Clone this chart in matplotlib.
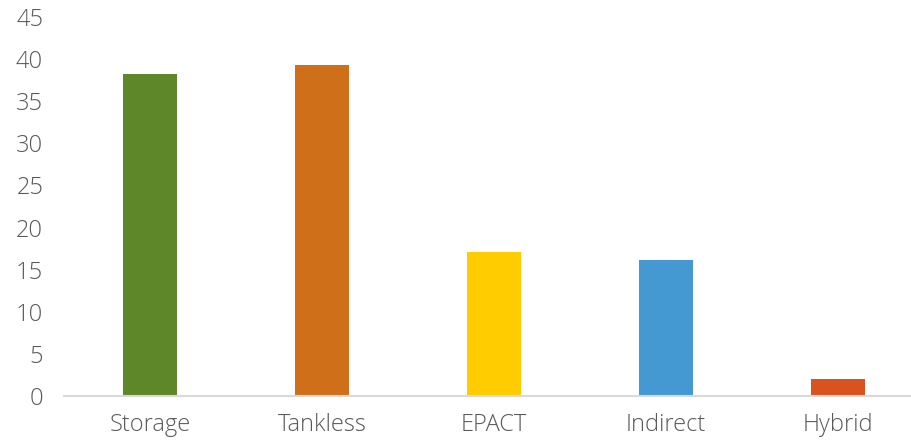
import matplotlib.pyplot as plt

categories = ["Storage", "Tankless", "EPACT", "Indirect", "Hybrid"]
values = [38.2, 39.3, 17.1, 16.15, 2.0]
colors = ["#5E8729", "#D06F1A", "#FFCC00", "#4599D3", "#D9531E"]
yticks = list(range(0, 50, 5))

plt.rcParams['font.family'] = ['Open Sans', 'DejaVu Sans']
plt.rcParams['font.weight'] = 'light'

fig = plt.figure(figsize=(9.11, 4.41), dpi=100)
ax = fig.add_axes([64 / 911, (441 - 396) / 441, 860 / 911, 379 / 441])

x = range(len(categories))
ax.bar(x, values, width=0.314, color=colors, zorder=2)

ax.set_xlim(-0.5, 4.5)
ax.set_ylim(0, 45)
ax.set_yticks(yticks)
ax.set_xticks(list(x))
ax.set_xticklabels(categories)

for side in ["top", "right", "left"]:
    ax.spines[side].set_visible(False)
ax.spines["bottom"].set_color("#D9D9D9")
ax.spines["bottom"].set_linewidth(1.5)

ax.tick_params(axis="both", length=0, labelsize=17, colors="#595959")
ax.tick_params(axis="y", pad=15)
ax.tick_params(axis="x", pad=12)

fig.savefig("out.png", dpi=100)
